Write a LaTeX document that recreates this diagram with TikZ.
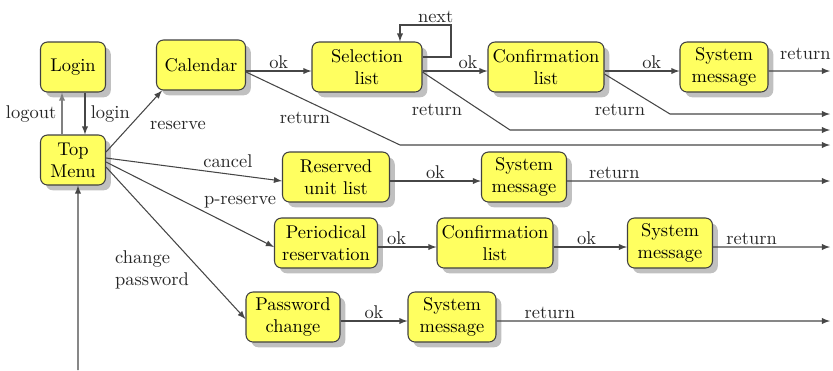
\documentclass[tikz,border=0pt]{standalone}
\usetikzlibrary{arrows,shadows}
\definecolor{boxyellow}{RGB}{255,255,96}
\definecolor{linegray}{RGB}{70,70,70}

\begin{document}
\begin{tikzpicture}[x=0.02cm,y=-0.02cm,
  font=\fontsize{10.5}{12.5}\selectfont,
  box/.style={draw=black!75,line width=0.6pt,fill=boxyellow,rounded corners=4pt,
    align=center,minimum height=1cm,inner sep=1pt,
    drop shadow={shadow xshift=3pt,shadow yshift=-3pt,fill=black!45,opacity=.55}},
  arr/.style={-latex,draw=linegray,line width=0.6pt},
  lbl/.style={inner sep=1pt,text=black!85}]
  \useasboundingbox (0,0) rectangle (833,370);

  % states
  \node[box,minimum width=1.3cm] (login) at (73,67) {Login};
  \node[box,minimum width=1.3cm] (menu) at (73,160) {Top\\Menu};
  \node[box,minimum width=1.78cm] (cal) at (201,65) {Calendar};
  \node[box,minimum width=2.2cm] (sel) at (367,67) {Selection\\list};
  \node[box,minimum width=2.32cm] (conf) at (546,67) {Confirmation\\list};
  \node[box,minimum width=1.76cm] (msg) at (724,67) {System\\message};
  \node[box,minimum width=2.14cm] (unit) at (336,177) {Reserved\\unit list};
  \node[box,minimum width=1.7cm] (msgb) at (524,177) {System\\message};
  \node[box,minimum width=2.06cm] (period) at (326,243) {Periodical\\reservation};
  \node[box,minimum width=2.32cm] (confb) at (495,243) {Confirmation\\list};
  \node[box,minimum width=1.7cm] (msgc) at (670,243) {System\\message};
  \node[box,minimum width=1.88cm] (passwd) at (293,317) {Password\\change};
  \node[box,minimum width=1.76cm] (msgd) at (452,317) {System\\message};

  % loose ends
  \coordinate (bottom) at (78,370);
  \coordinate (enda) at (830,71);
  \coordinate (endret) at (830,114);
  \coordinate (endsel) at (830,130);
  \coordinate (endcal) at (830,145);
  \coordinate (endb) at (830,181);
  \coordinate (endc) at (830,247);
  \coordinate (endd) at (830,321);

  % login / logout
  \draw[arr] ([xshift=0.24cm]login.south) -- ([xshift=0.24cm]menu.north)
    node[lbl,midway,right=2pt] {login};
  \draw[arr,draw=gray] ([xshift=-0.22cm]menu.north) -- ([xshift=-0.22cm]login.south)
    node[lbl,midway,left=2pt] {logout};
  \draw[arr] (bottom) -- ([xshift=0.1cm]menu.south);

  % reserve
  \draw[arr] ([yshift=0.16cm]menu.east) -- ([xshift=0.12cm]cal.south west);
  \node[lbl] (reservelbl) at (178,125) {reserve};
  \draw[arr] ([yshift=-0.08cm]sel.west -| cal.east) -- ([yshift=-0.08cm]sel.west)
    node[lbl,midway,above] {ok};
  \draw[arr] ([yshift=0.2cm]sel.east) -| (451,25) -| ([xshift=0.66cm]sel.north)
    node[lbl,pos=.15,above] {next};
  \draw[arr] ([yshift=-0.08cm]sel.east) -- ([yshift=-0.08cm]conf.west)
    node[lbl,pos=.7,above] {ok};
  \draw[arr] ([yshift=-0.08cm]conf.east) -- ([yshift=-0.08cm]msg.west)
    node[lbl,pos=.63,above] {ok};
  \draw[arr] ([yshift=-0.08cm]msg.east) -- (enda)
    node[lbl,pos=.6,above=5pt] {return};

  % returns
  \draw[arr] ([yshift=-0.14cm]cal.east) -- (400,145) -- (endcal);
  \node[lbl] (calret) at (305,118) {return};
  \draw[arr] ([yshift=-0.1cm]sel.east) -- (510,130) -- (endsel);
  \node[lbl] (selret) at (437,110) {return};
  \draw[arr] ([yshift=-0.14cm]conf.east) -- (670,114) -- (endret);
  \node[lbl] (confret) at (620,110) {return};

  % cancel
  \draw[arr] ([yshift=0.04cm]menu.east) -- ([yshift=-0.08cm]unit.west)
    node[lbl,pos=.54,anchor=south west] {cancel};
  \draw[arr] ([yshift=-0.08cm]unit.east) -- ([yshift=-0.08cm]msgb.west)
    node[lbl,midway,above] {ok};
  \draw[arr] ([yshift=-0.08cm]msgb.east) -- (endb)
    node[lbl,pos=.18,above] {return};

  % p-reserve
  \draw[arr] ([yshift=-0.04cm]menu.east) -- ([yshift=-0.08cm]period.west)
    node[lbl,pos=.57,anchor=south west] {p-reserve};
  \draw[arr] ([yshift=-0.08cm]period.east) -- ([yshift=-0.08cm]confb.west)
    node[lbl,pos=.32,above] {ok};
  \draw[arr] ([yshift=-0.08cm]confb.east) -- ([yshift=-0.08cm]msgc.west)
    node[lbl,pos=.45,above] {ok};
  \draw[arr] ([yshift=-0.08cm]msgc.east) -- (endc)
    node[lbl,pos=.33,above] {return};

  % change password
  \draw[arr] ([yshift=-0.14cm]menu.east) -- ([yshift=-0.04cm]passwd.west);
  \node[lbl,align=left] (pwlbl) at (152,270) {change\\password};
  \draw[arr] ([yshift=-0.08cm]passwd.east) -- ([yshift=-0.08cm]msgd.west)
    node[lbl,midway,above] {ok};
  \draw[arr] ([yshift=-0.08cm]msgd.east) -- (endd)
    node[lbl,pos=.16,above] {return};
\end{tikzpicture}
\end{document}
